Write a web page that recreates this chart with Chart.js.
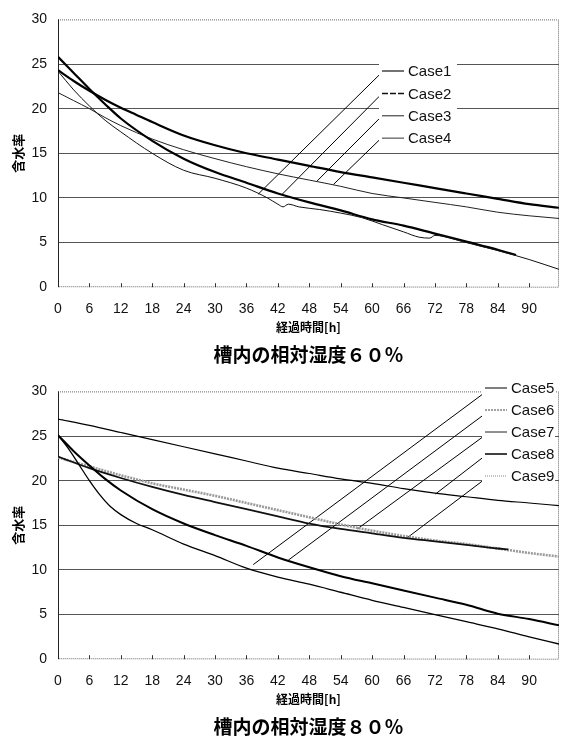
<!DOCTYPE html>
<html>
<head>
<meta charset="utf-8">
<script src="https://cdn.jsdelivr.net/npm/chart.js@4.4.0/dist/chart.umd.min.js"></script>
<style>
body{margin:0;background:#fff;width:565px;height:742px;position:relative;overflow:hidden}
#c1{position:absolute;left:0;top:0}
#c2{position:absolute;left:0;top:372px}
</style>
</head>
<body>
<canvas id="c1" width="565" height="370"></canvas>
<canvas id="c2" width="565" height="370"></canvas>
<script>
// ---- 槽内の相対湿度60% ----
var case1_h = [0,3,6,9,12,18,24,30,36,40,42,43,44,46,50,54,58,62,66,69,71,72,78,84,90,95.7];
var case1_m = [24.2,22.1,20.3,18.7,17.4,15.0,13.1,12.2,11.1,10.0,9.3,9.0,9.3,9.0,8.7,8.3,7.8,7.0,6.2,5.6,5.5,5.8,5.0,4.1,3.1,2.0];
var case2_h = [0,3,6,9,12,18,24,30,36,42,48,54,60,66,72,78,84,87.5];
var case2_m = [25.8,24.0,22.2,20.5,18.9,16.4,14.4,12.9,11.7,10.5,9.5,8.6,7.6,6.9,6.0,5.1,4.2,3.6];
var case3_h = [0,3,6,9,12,18,24,30,36,42,48,54,60,66,72,78,84,90,95.7];
var case3_m = [21.8,20.9,20.0,19.0,18.1,16.6,15.4,14.4,13.5,12.7,12.0,11.3,10.5,10.0,9.5,9.0,8.4,8.0,7.7];
var case4_h = [0,3,6,9,12,15,18,24,30,36,42,48,54,60,66,72,78,84,90,95.7];
var case4_m = [24.3,23.1,22.0,21.0,20.1,19.3,18.5,17.0,15.9,15.0,14.3,13.6,12.9,12.3,11.7,11.1,10.5,9.9,9.3,8.9];

// ---- 槽内の相対湿度80% ----
var case5_h = [0,2,4,6,8,10,12,15,18,24,30,36,42,48,54,60,66,72,78,84,90,95.7];
var case5_m = [25.1,23.6,21.8,20.0,18.4,17.1,16.2,15.2,14.5,12.9,11.6,10.2,9.2,8.4,7.5,6.6,5.8,5.0,4.2,3.4,2.5,1.7];
var case6_h = [0,3,6,9,12,18,24,30,36,42,48,54,60,66,72,78,84,90,95.7];
var case6_m = [25.1,23.3,21.7,20.2,18.9,16.8,15.2,13.9,12.7,11.4,10.3,9.3,8.5,7.7,6.9,6.1,5.1,4.5,3.8];
var case7_h = [0,6,12,18,24,30,36,42,48,54,60,66,72,78,84,86];
var case7_m = [22.7,21.4,20.3,19.3,18.4,17.6,16.8,16.0,15.2,14.6,14.1,13.6,13.2,12.8,12.4,12.3];
var case8_h = [0,6,12,18,24,30,36,42,48,54,60,66,72,78,84,90,95.7];
var case8_m = [26.9,26.2,25.4,24.6,23.8,23.0,22.2,21.4,20.8,20.2,19.7,19.1,18.6,18.2,17.8,17.5,17.2];
var case9_h = [0,6,12,18,24,30,36,42,48,54,60,66,72,78,84,90,95.7];
var case9_m = [22.6,21.6,20.6,19.7,19.0,18.3,17.5,16.7,15.9,15.1,14.4,13.8,13.3,12.9,12.4,11.9,11.5];

// 凡例からの引出線 [h, 含水率]
var leaders60 = [
  [[61.4,23.8],[38.2,10.4]],
  [[61.4,21.4],[42.8,10.4]],
  [[61.4,18.9],[49.5,11.9]],
  [[61.4,16.5],[52.6,11.5]]
];
var leaders80 = [
  [[81.6,29.9],[37.3,10.6]],
  [[81.6,27.5],[44.0,11.1]],
  [[81.6,25.1],[57.2,14.6]],
  [[81.6,22.8],[72.1,18.5]],
  [[81.6,20.2],[66.7,13.6]]
];

var hourTicks = [0,6,12,18,24,30,36,42,48,54,60,66,72,78,84,90];
var xMax = 95.7;

function pts(h, m){
  var out = [];
  for (var i = 0; i < h.length; i++) out.push({x: h[i], y: m[i]});
  return out;
}

function curve(h, m, color, w){
  return {data: pts(h, m), borderColor: color, borderWidth: w, pointRadius: 0,
          fill: false, cubicInterpolationMode: 'monotone'};
}

function leaderSets(list){
  return list.map(function(l){
    return {data: [{x:l[0][0], y:l[0][1]}, {x:l[1][0], y:l[1][1]}],
            borderColor: '#000', borderWidth: 1, pointRadius: 0, fill: false};
  });
}

var framePlugin = {
  id: 'frame',
  beforeDatasetsDraw: function(chart){
    var ctx = chart.ctx, a = chart.chartArea;
    ctx.save();
    ctx.strokeStyle = '#666';
    ctx.lineWidth = 1;
    ctx.setLineDash([1,1]);
    ctx.beginPath();
    ctx.moveTo(a.left, a.top + 0.5);
    ctx.lineTo(a.right - 0.5, a.top + 0.5);
    ctx.lineTo(a.right - 0.5, a.bottom);
    ctx.lineTo(a.left, a.bottom - 0.5);
    ctx.stroke();
    ctx.setLineDash([]);
    ctx.strokeStyle = '#222';
    ctx.beginPath();
    ctx.moveTo(a.left + 0.5, a.top);
    ctx.lineTo(a.left + 0.5, a.bottom);
    ctx.stroke();
    // 目盛 (内向き)
    var xs = chart.scales.x;
    ctx.strokeStyle = '#333';
    ctx.beginPath();
    hourTicks.forEach(function(t){
      if (t === 0) return;
      var px = Math.round(xs.getPixelForValue(t)) + 0.5;
      ctx.moveTo(px, a.bottom);
      ctx.lineTo(px, a.bottom - 4);
    });
    ctx.stroke();
    ctx.restore();
  },
  afterDatasetsDraw: function(chart, args, opts){
    if (!opts.items) return;
    var ctx = chart.ctx;
    ctx.save();
    ctx.fillStyle = '#fff';
    ctx.fillRect(opts.box[0], opts.box[1], opts.box[2], opts.box[3]);
    ctx.font = '15px "Liberation Sans", Arial, sans-serif';
    ctx.textBaseline = 'middle';
    opts.items.forEach(function(it, i){
      var y = opts.y0 + i * opts.dy;
      ctx.strokeStyle = it.color;
      ctx.lineWidth = it.width;
      ctx.setLineDash(it.dash || []);
      ctx.beginPath();
      ctx.moveTo(opts.x0, y);
      ctx.lineTo(opts.x0 + 22, y);
      ctx.stroke();
      ctx.fillStyle = '#111';
      ctx.fillText(it.label, opts.x0 + 26, y + 1);
    });
    ctx.restore();
  }
};

function makeOptions(title, legendOpts){
  return {
    responsive: false,
    animation: false,
    layout: {padding: {top: 15, right: 6, bottom: 4, left: 0}},
    plugins: {
      legend: {display: false},
      tooltip: {enabled: false},
      title: {display: true, text: title, position: 'bottom', fullSize: false,
              color: '#000', padding: 0,
              font: {family: '"Noto Sans CJK JP"', size: 19, weight: 'bold'}},
      frame: legendOpts
    },
    scales: {
      x: {
        type: 'linear', min: 0, max: xMax,
        afterBuildTicks: function(s){ s.ticks = hourTicks.map(function(v){ return {value: v}; }); },
        afterFit: function(s){ s.height = 56; },
        grid: {display: false, drawTicks: false},
        border: {display: false},
        ticks: {padding: 14, color: '#111', maxRotation: 0,
                font: {family: '"Liberation Sans", Arial', size: 14}},
        title: {display: true, text: '経過時間[h]', color: '#000',
                padding: {top: 0, bottom: 9},
                font: {family: '"Noto Sans CJK JP"', size: 12, weight: 'bold'}}
      },
      y: {
        min: 0, max: 30,
        afterFit: function(s){ s.width = 58; },
        ticks: {stepSize: 5, padding: 11, color: '#111',
                font: {family: '"Liberation Sans", Arial', size: 14}},
        grid: {drawTicks: false,
               color: function(c){ return (c.tick.value === 0 || c.tick.value === 30) ? 'rgba(0,0,0,0)' : '#555'; }},
        border: {display: false},
        title: {display: true, text: '含水率', color: '#000', padding: {top: 10, bottom: 0},
                font: {family: '"Noto Sans CJK JP"', size: 13, weight: 'bold'}}
      }
    }
  };
}

new Chart(document.getElementById('c1'), {
  type: 'line',
  data: {
    datasets: [
      curve(case1_h, case1_m, '#111', 1),
      curve(case2_h, case2_m, '#000', 2.2),
      curve(case3_h, case3_m, '#222', 1),
      curve(case4_h, case4_m, '#000', 2.2)
    ].concat(leaderSets(leaders60))
  },
  options: makeOptions('槽内の相対湿度６０％', {
    box: [379, 58, 78, 92], x0: 382, y0: 71, dy: 22.4,
    items: [
      {label: 'Case1', color: '#444', width: 1.5},
      {label: 'Case2', color: '#111', width: 1.5, dash: [6,2]},
      {label: 'Case3', color: '#222', width: 1},
      {label: 'Case4', color: '#777', width: 1.5}
    ]
  }),
  plugins: [framePlugin]
});

new Chart(document.getElementById('c2'), {
  type: 'line',
  data: {
    datasets: [
      curve(case5_h, case5_m, '#000', 1.3),
      curve(case6_h, case6_m, '#000', 2),
      curve(case7_h, case7_m, '#111', 1.8),
      curve(case8_h, case8_m, '#000', 1.2),
      Object.assign(curve(case9_h, case9_m, '#9a9a9a', 2.6), {borderDash: [2,1]})
    ].concat(leaderSets(leaders80))
  },
  options: makeOptions('槽内の相対湿度８０％', {
    box: [482, 6, 73, 112], x0: 485, y0: 16, dy: 22,
    items: [
      {label: 'Case5', color: '#000', width: 1},
      {label: 'Case6', color: '#444', width: 1, dash: [2,1]},
      {label: 'Case7', color: '#222', width: 1},
      {label: 'Case8', color: '#000', width: 1.5},
      {label: 'Case9', color: '#888', width: 1, dash: [1,1]}
    ]
  }),
  plugins: [framePlugin]
});
</script>
</body>
</html>
